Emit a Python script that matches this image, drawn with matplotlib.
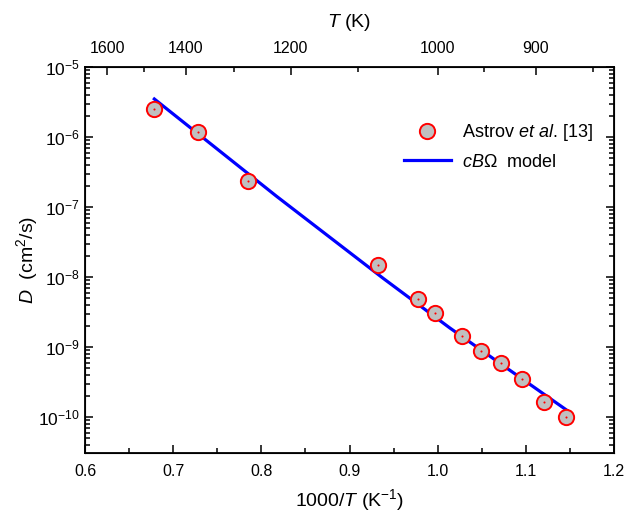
import numpy as np
import matplotlib
matplotlib.use('Agg')
import matplotlib.pyplot as plt
from matplotlib.ticker import FixedLocator, NullFormatter, LogLocator

plt.rcParams['font.family'] = ['Liberation Sans', 'DejaVu Sans']
plt.rcParams['mathtext.fontset'] = 'custom'
plt.rcParams['mathtext.rm'] = 'Liberation Sans'
plt.rcParams['mathtext.it'] = 'Liberation Sans:italic'

# experimental points (Astrov et al.)
inv_T = [0.6786, 0.7281, 0.7851, 0.9322, 0.9776, 0.9972,
         1.0274, 1.0493, 1.0717, 1.0955, 1.1201, 1.1454]
D_exp = [2.51e-6, 1.17e-6, 2.38e-7, 1.47e-8, 4.8e-9, 3.03e-9,
         1.45e-9, 8.86e-10, 5.85e-10, 3.46e-10, 1.62e-10, 1.0e-10]

# cB-Omega model curve
inv_T_model = [0.6786, 0.8173, 0.9382, 1.0138, 1.0819, 1.1461]
D_model = [3.49e-6, 1.42e-7, 9.57e-9, 1.87e-9, 4.65e-10, 1.26e-10]

T_ticks = [1600, 1400, 1200, 1000, 900]
T_minor = [1500, 1300, 1100, 950, 850]

fig = plt.figure(figsize=(6.28, 5.18), dpi=100)
ax = fig.add_axes([0.1354, 0.1255, 0.8423, 0.7452])

ax.plot(inv_T_model, D_model, color='#0000ff', lw=2.3, label=r'$cB\Omega$  model', zorder=2)
ax.plot(inv_T, D_exp, 'o', ms=11, mfc='#c0c0c0', mec='#ff0000', mew=1.4,
        label=r'Astrov $et$ $al$. [13]', zorder=3)
ax.plot(inv_T, D_exp, 'o', ms=1.5, mfc='#ff0000', mec='none', zorder=4)

ax.set_yscale('log')
ax.set_xlim(0.6, 1.2)
ax.set_ylim(10 ** -10.514, 1e-5)
ax.set_xticks(np.arange(0.6, 1.21, 0.1))
ax.set_xticklabels(['0.6', '0.7', '0.8', '0.9', '1.0', '1.1', '1.2'])
ax.set_xticks(np.arange(0.65, 1.2, 0.1), minor=True)
ax.yaxis.set_major_locator(LogLocator(base=10, numticks=20))
ax.yaxis.set_minor_locator(LogLocator(base=10, subs=np.arange(2, 10), numticks=20))
ax.yaxis.set_minor_formatter(NullFormatter())

ax.tick_params(which='both', direction='in', labelsize=11.5, width=1.1)
ax.tick_params(axis='y', labelsize=12.5)
ax.tick_params(which='major', length=6)
ax.tick_params(which='minor', length=3.5)
ax.tick_params(axis='y', which='both', right=True, labelright=False)
ax.tick_params(axis='x', pad=8)
for s in ax.spines.values():
    s.set_linewidth(1.3)

ax.set_xlabel(r'1000/$T$ (K$^{-1}$)', fontsize=14, labelpad=6)
ax.set_ylabel(r'$D$  (cm$^{2}$/s)', fontsize=14)
ax.yaxis.set_label_coords(-0.085, 0.5)

top = ax.twiny()
top.set_xlim(ax.get_xlim())
top.xaxis.set_major_locator(FixedLocator([1000.0 / t for t in T_ticks]))
top.set_xticklabels([str(t) for t in T_ticks])
top.xaxis.set_minor_locator(FixedLocator([1000.0 / t for t in T_minor]))
top.xaxis.set_minor_formatter(NullFormatter())
top.tick_params(which='both', direction='in', labelsize=11.5, width=1.1)
top.tick_params(which='major', length=6, pad=8)
top.tick_params(which='minor', length=3.5)
top.set_xlabel(r'$T$ (K)', fontsize=14, labelpad=10)

handles, labels = ax.get_legend_handles_labels()
ax.legend(handles[::-1], labels[::-1], loc='upper right', bbox_to_anchor=(0.99, 0.9),
          frameon=False, fontsize=13, handlelength=2.6, handletextpad=0.6,
          labelspacing=0.6)

fig.savefig('out.png', dpi=100)
